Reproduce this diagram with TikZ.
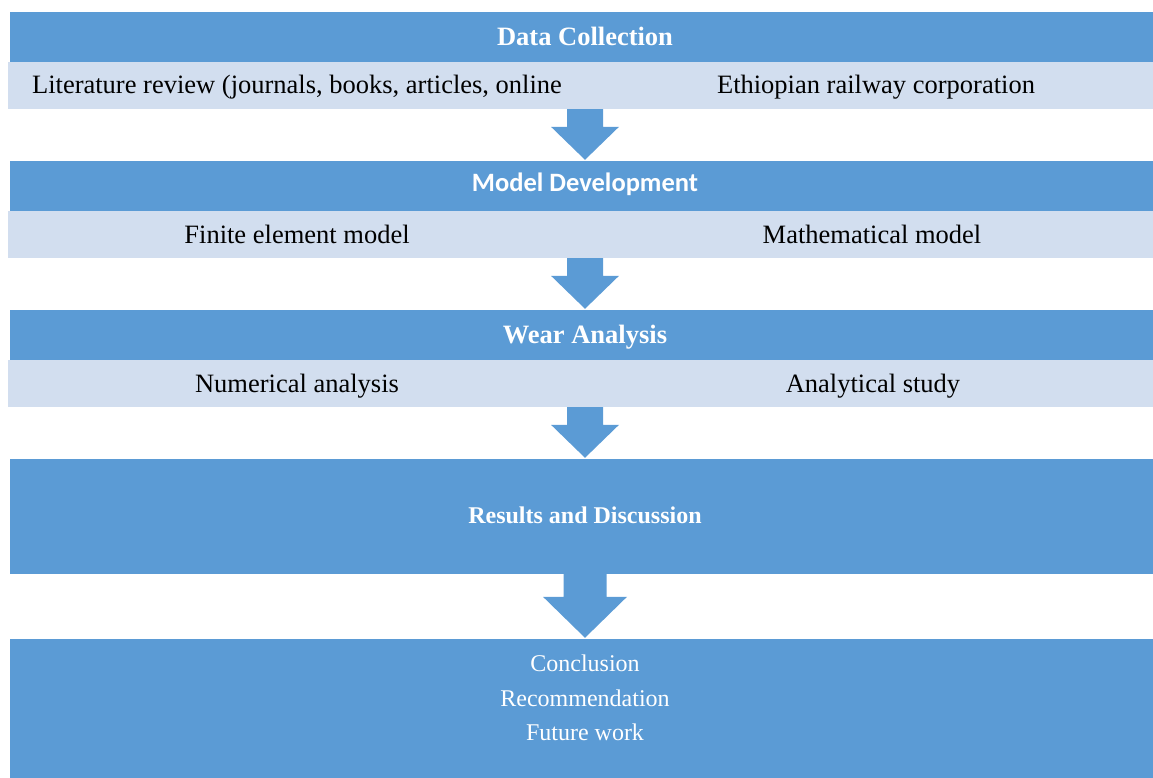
\documentclass[tikz,border=0pt]{standalone}
\usepackage{fontspec}
\setmainfont{Liberation Serif}
\newfontfamily\calibrifont{Carlito}
\usetikzlibrary{calc}
\definecolor{barblue}{HTML}{5B9BD5}
\definecolor{rowblue}{HTML}{D2DEEF}
\tikzset{
	headbar/.style={fill=barblue, draw=none, inner sep=0pt},
	rowbar/.style={fill=rowblue, draw=none, inner sep=0pt},
	celltext/.style={anchor=base, inner sep=0pt, font=\fontsize{26.5}{30}\selectfont},
	headtext/.style={celltext, text=white, font=\fontsize{26.5}{30}\selectfont\bfseries},
	boxtext/.style={anchor=base, inner sep=0pt, text=white, font=\fontsize{24}{28}\selectfont},
}
\newcommand{\drawbar}[6]{% name, style, x1, y1, x2, y2
	\node[#2, minimum width={(#5-#3)*1pt}, minimum height={(#6-#4)*1pt}]
		(#1) at ({(#3+#5)/2}, {(#4+#6)/2}) {};
}
\newcommand{\drawblockarrow}[5]{% from, to, shaft half width, head half width, head length
	\fill[barblue] let \p1 = (#1.south -| ax), \p2 = (#2.north -| ax) in
		(\x1-#3pt, \y1) -- (\x1+#3pt, \y1) -- (\x1+#3pt, \y2+#5pt)
		-- (\x1+#4pt, \y2+#5pt) -- (\x2, \y2+1pt) -- (\x1-#4pt, \y2+#5pt)
		-- (\x1-#3pt, \y2+#5pt) -- cycle;
}
\begin{document}
\begin{tikzpicture}[x=1pt, y=-1pt]
\useasboundingbox (0,0) rectangle (1153,778);
\coordinate (ax) at (585,0);

% data collection
\drawbar{dchead}{headbar}{10}{12}{1153}{62};
\drawbar{dcrow}{rowbar}{8}{62}{1153}{109};
\node[headtext] (dctitle) at (585,45.5) {Data Collection};
\node[celltext] (dclit) at (297,94) {Literature review (journals, books, articles, online};
\node[celltext] (dcerc) at (876,94) {Ethiopian railway corporation};

% model development
\drawbar{mdhead}{headbar}{10}{161}{1153}{211};
\drawbar{mdrow}{rowbar}{8}{211}{1153}{258};
\node[headtext, font=\fontsize{26.5}{30}\selectfont\calibrifont\bfseries] (mdtitle) at (585,192) {Model Development};
\node[celltext] (mdfem) at (297,243) {Finite element model};
\node[celltext] (mdmath) at (872,243) {Mathematical model};

% wear analysis
\drawbar{wahead}{headbar}{10}{310}{1153}{360};
\drawbar{warow}{rowbar}{8}{360}{1153}{407};
\node[headtext] (watitle) at (585,343) {Wear Analysis};
\node[celltext] (wanum) at (297,392) {Numerical analysis};
\node[celltext] (waana) at (873,392) {Analytical study};

% results and conclusion
\drawbar{rdbox}{headbar}{10}{459}{1153}{574};
\node[boxtext, font=\fontsize{24}{28}\selectfont\bfseries] (rdtitle) at (585,523) {Results and Discussion};
\drawbar{crbox}{headbar}{10}{639}{1153}{778};
\node[boxtext] (crconc) at (585,671.5) {Conclusion};
\node[boxtext] (crrec) at (585,706.5) {Recommendation};
\node[boxtext] (crfut) at (585,740.5) {Future work};

\drawblockarrow{dcrow}{mdhead}{18}{34}{34};
\drawblockarrow{mdrow}{wahead}{18}{34}{34};
\drawblockarrow{warow}{rdbox}{18}{34}{34};
\drawblockarrow{rdbox}{crbox}{21.5}{42}{42};

\end{tikzpicture}
\end{document}
